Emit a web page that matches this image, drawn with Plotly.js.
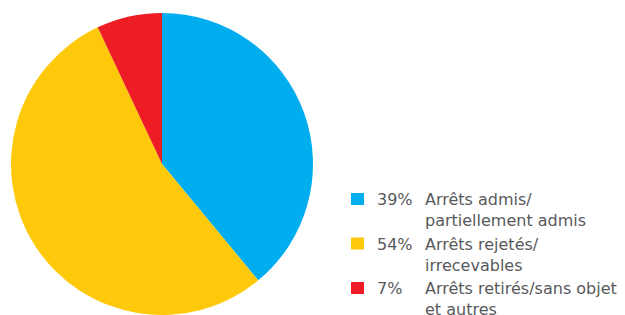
<!DOCTYPE html>
<html>
<head>
<meta charset="utf-8">
<script src="https://cdn.plot.ly/plotly-3.0.1.min.js"></script>
<style>html,body{margin:0;padding:0;background:#fff;}#chart{width:625px;height:315px;}</style>
</head>
<body>
<div id="chart"></div>
<script>
const categories = ["Arrêts admis/<br>partiellement admis", "Arrêts rejetés/<br>irrecevables", "Arrêts retirés/sans objet<br>et autres"];
const values = [39, 54, 7];
const pctLabels = ["39%", "54%", "7%"];
const colors = ["#00AEEF", "#FFC90B", "#EE1C25"];

const W = 625, H = 315;
const px = x => x / W;
const py = y => 1 - y / H;
const font = {family: "DejaVu Sans, sans-serif", size: 16, color: "#58595B"};

const annotations = [];
const shapes = [];
const rowTop = 188, rowStep = 44.5;
categories.forEach((c, i) => {
  const top = rowTop + i * rowStep;
  shapes.push({type: "rect", xref: "paper", yref: "paper",
    x0: px(351), x1: px(364), y0: py(top + 5), y1: py(top + 17),
    fillcolor: colors[i], line: {width: 0}});
  annotations.push({xref: "paper", yref: "paper", x: px(375), y: py(top),
    xanchor: "left", yanchor: "top", align: "left", showarrow: false,
    text: pctLabels[i], font: font});
  annotations.push({xref: "paper", yref: "paper", x: px(423), y: py(top),
    xanchor: "left", yanchor: "top", align: "left", showarrow: false,
    text: c, font: font});
});

Plotly.newPlot("chart", [{
  type: "pie",
  values: values,
  labels: categories,
  marker: {colors: colors, line: {width: 0}},
  sort: false,
  direction: "clockwise",
  rotation: 0,
  textinfo: "none",
  hoverinfo: "none",
  domain: {x: [px(11), px(313)], y: [0, py(13)]}
}], {
  width: W, height: H,
  margin: {l: 0, r: 0, t: 0, b: 0},
  showlegend: false,
  paper_bgcolor: "#fff",
  annotations: annotations,
  shapes: shapes
}, {staticPlot: true});
</script>
</body>
</html>
